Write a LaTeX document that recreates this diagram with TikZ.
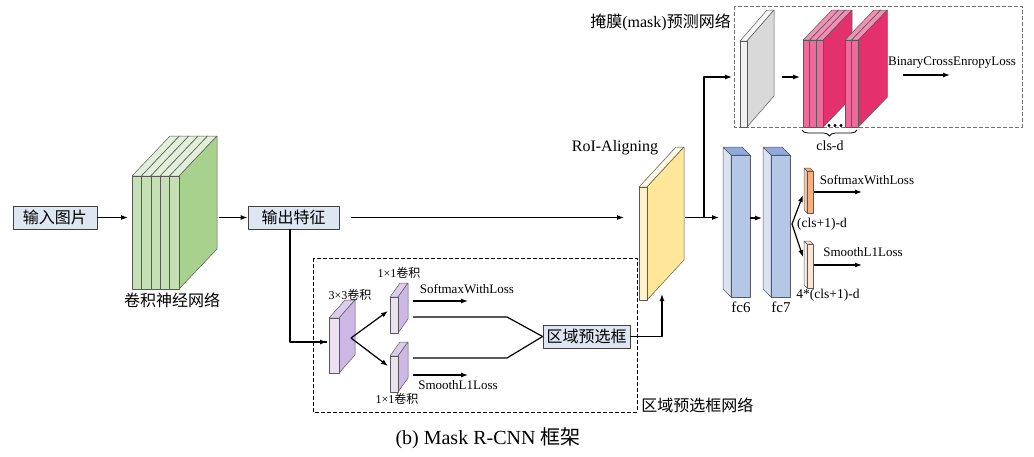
\documentclass[tikz,border=0pt]{standalone}
\usepackage{fontspec}
\setmainfont{Liberation Serif}
\newfontfamily\cjk{Noto Sans CJK SC}
\usetikzlibrary{arrows.meta,decorations.pathreplacing}
\definecolor{boxfill}{HTML}{DEE6F2}
\definecolor{boxline}{HTML}{404040}
\definecolor{gfront}{HTML}{C5E0B4}
\definecolor{gside}{HTML}{A9D18E}
\definecolor{gtop}{HTML}{E2F0D9}
\definecolor{pfront}{HTML}{EAE2F3}
\definecolor{pside}{HTML}{CDB7E5}
\definecolor{ptop}{HTML}{DCCDEC}
\definecolor{yfront}{HTML}{FFF2CC}
\definecolor{yside}{HTML}{FFE699}
\definecolor{ytop}{HTML}{FFF8E1}
\definecolor{bfront}{HTML}{B4C7E7}
\definecolor{bside}{HTML}{DAE3F3}
\definecolor{btop}{HTML}{8FAADC}
\definecolor{kfront}{HTML}{F2F2F2}
\definecolor{kside}{HTML}{D9D9D9}
\definecolor{ktop}{HTML}{F7F7F7}
\definecolor{mfront}{HTML}{EE6A9B}
\definecolor{mside}{HTML}{E5306E}
\definecolor{mtop}{HTML}{F28FB4}
\definecolor{ofront}{HTML}{F4B183}
\definecolor{oside}{HTML}{F8CBAD}
\definecolor{sfront}{HTML}{FBE5D6}
\definecolor{sside}{HTML}{FDF2EA}
% slab: x, top, bottom, width, dx, dy, front, side, top colour
\newcommand{\slab}[9]{\filldraw[fill=#9] (#1,#2) -- ++(#5,#6) -- ++(#4,0) -- ++({-(#5)},{-(#6)}) -- cycle;
	\filldraw[fill=#8] (#1+#4,#2) -- ++(#5,#6) -- ++(0,#3-#2) -- ++({-(#5)},{-(#6)}) -- cycle;
	\filldraw[fill=#7] (#1,#2) rectangle (#1+#4,#3)}
% fc box: x, top, bottom, width, depth, front, side, top colour
\newcommand{\fcbox}[8]{\filldraw[fill=#7] (#1,#2) -- ++({-(#5)},{-(#5)}) -- ++(0,#3-#2) -- ++(#5,#5) -- cycle;
	\filldraw[fill=#8] (#1,#2) -- ++({-(#5)},{-(#5)}) -- ++(#4,0) -- ++(#5,#5) -- cycle;
	\filldraw[fill=#6] (#1,#2) rectangle (#1+#4,#3)}
\begin{document}
\begin{tikzpicture}[x=1pt,y=-1pt,line join=round,
	boxnode/.style={draw=boxline,fill=boxfill,line width=0.8pt,minimum height=23pt,inner sep=1pt,font=\cjk\fontsize{16}{16}\selectfont},
	cjklab/.style={inner sep=0pt,font=\cjk\fontsize{16}{16}\selectfont},
	lab/.style={inner sep=0pt,font=\fontsize{13}{13}\selectfont},
	arr/.style={-{Latex[length=7pt,width=5pt]},line width=1.2pt},
	ln/.style={line width=1.2pt}]
\useasboundingbox (0,0) rectangle (1034,456);
\tikzset{every path/.append style={draw=black!65,line width=0.5pt}}
% backbone
\node[boxnode,minimum width=84pt] (in) at (55,217.5) {输入图片};
\foreach \x in {132,141.4,150.8,160.2,169.6}
	{\slab{\x}{176}{289}{9.4}{38}{-40}{gfront}{gside}{gtop};}
\node[cjklab] (cnnlab) at (172,300) {卷积神经网络};
\node[boxnode,minimum width=91pt] (feat) at (293.5,217.5) {输出特征};
\coordinate (cnnL) at (128,217.5);
\coordinate (cnnR) at (219,217.5);
\coordinate (roiL) at (624,217.5);
\draw[arr,black] (in.east) -- (cnnL);
\draw[arr,black] (cnnR) -- (feat.west);
\draw[arr,black] (feat.east) ++(12,0) -- (roiL);
% RPN
\draw[black,line width=1pt,dash pattern=on 4pt off 2pt] (313,258) rectangle (637,412);
\node[cjklab,anchor=west] (rpnlab) at (641,405) {区域预选框网络};
\slab{329}{318}{373}{10}{16}{-18}{pfront}{pside}{ptop};
\node[lab,font=\fontsize{12}{12}\selectfont] (c33lab) at (350,295) {3×3{\cjk 卷积}};
\slab{390}{297}{333}{8}{10}{-14}{pfront}{pside}{ptop};
\node[lab,font=\fontsize{12}{12}\selectfont] (c11a) at (399,273) {1×1{\cjk 卷积}};
\slab{390}{356}{392}{8}{10}{-14}{pfront}{pside}{ptop};
\node[lab,font=\fontsize{12}{12}\selectfont] (c11b) at (397,399) {1×1{\cjk 卷积}};
\coordinate (c33in) at (327,342);
\coordinate (split) at (351,338);
\draw[ln,black] (feat.south -| 290,0) |- (c33in);
\draw[arr,black] (c33in) ++(-3,0) -- (c33in);
\draw[arr,black] (split) -- (388,311);
\draw[arr,black] (split) -- (388,366);
\node[lab] (rsoft) at (467,289) {SoftmaxWithLoss};
\draw[arr,black] (413,301) -- (468,301);
\node[boxnode,minimum width=87pt] (prop) at (586.5,336.5) {区域预选框};
\draw[ln,black] (413,317) -- (507,317) -- (prop.west);
\draw[ln,black] (413,358) -- (507,358) -- (prop.west);
\draw[arr,black] (413,375) -- (468,375);
\node[lab] (rsmooth) at (458,385) {SmoothL1Loss};
\coordinate (roiB) at (662,294);
\draw[arr,black] (prop.east) -| (roiB);
% RoI align
\slab{639}{187}{300}{8}{37}{-40}{yfront}{yside}{ytop};
\node[lab,font=\fontsize{16}{16}\selectfont] (roilab) at (615,148) {RoI-Aligning};
\coordinate (roiR) at (685,217.5);
\coordinate (fork) at (704,217.5);
\coordinate (fc6L) at (719,217.5);
\coordinate (maskin) at (732,77);
\draw[arr,black] (roiR) -- (fc6L);
\draw[arr,black] (fork) |- (maskin);
% mask branch
\draw[black!55,line width=0.8pt,dash pattern=on 4pt off 2pt] (734,6) rectangle (1022,127);
\node[cjklab,anchor=east] (masklab) at (731,22) {掩膜{\rmfamily(mask)}预测网络};
\slab{740}{41}{127}{7}{27}{-31}{kfront}{kside}{ktop};
\draw[arr,black] (782,77) -- (800,77);
\foreach \x in {803,809.7,816.4}
	{\slab{\x}{40}{127}{6.7}{29}{-30}{mfront}{mside}{mtop};}
\foreach \x in {845,851.7}
	{\slab{\x}{40}{127}{6.7}{29}{-30}{mfront}{mside}{mtop};}
\foreach \x in {829,835,841}
	{\fill[black] (\x,125.5) circle (1.2);}
\draw[black,line width=0.8pt,decorate,decoration={brace,mirror,amplitude=6pt}] (802,130) -- (857,130);
\node[lab,font=\fontsize{14}{14}\selectfont] (clsd) at (830,146) {cls-d};
\node[lab] (bce) at (952,63) {BinaryCrossEnropyLoss};
\draw[arr,black] (903,75) -- (950,75);
% fc layers
\fcbox{731}{155}{297}{19}{8}{bfront}{bside}{btop};
\fcbox{771}{155}{297}{19}{8}{bfront}{bside}{btop};
\node[lab,font=\fontsize{15}{15}\selectfont] (fc6lab) at (741,307) {fc6};
\node[lab,font=\fontsize{15}{15}\selectfont] (fc7lab) at (781,307) {fc7};
\draw[arr,black] (750,218) -- (762,218);
\coordinate (split2) at (792,224);
\draw[arr,black] (split2) -- (803,195);
\draw[arr,black] (split2) -- (803,257);
\fcbox{807}{171}{213}{6}{3}{ofront}{oside}{ofront};
\fcbox{807}{244}{288}{6}{3}{sfront}{sside}{sfront};
\node[lab] (fsoft) at (867,180) {SoftmaxWithLoss};
\draw[arr,black] (814,192) -- (862,192);
\node[lab] (fsmooth) at (863,252) {SmoothL1Loss};
\draw[arr,black] (814,265) -- (862,265);
\node[lab,font=\fontsize{13.5}{13.5}\selectfont] (cls1) at (822,224) {(cls+1)-d};
\node[lab,font=\fontsize{13.5}{13.5}\selectfont] (cls4) at (828,295) {4*(cls+1)-d};
% caption
\node[lab,font=\fontsize{20}{20}\selectfont] (cap) at (488,438) {(b) Mask R-CNN {\cjk 框架}};
\end{tikzpicture}
\end{document}
